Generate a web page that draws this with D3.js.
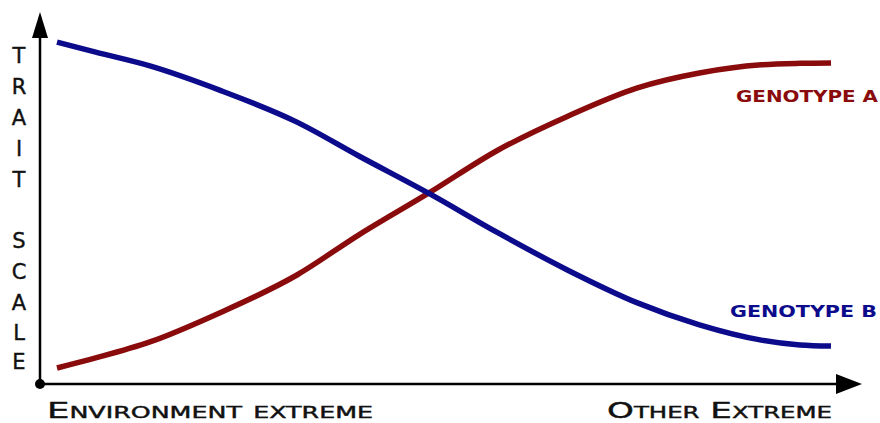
<!DOCTYPE html>
<html><head><meta charset="utf-8">
<script src="https://cdn.jsdelivr.net/npm/d3@7"></script>
<style>body{margin:0;background:#fff}svg{display:block}</style>
</head><body>
<script>
// Data
const environment = [0, 5, 12, 21, 31, 39, 48, 57, 66, 75, 83, 91, 96, 100];
const genotypeA = [4.3, 7.0, 11.3, 19.1, 29.3, 40.1, 51.3, 62.9, 72.0, 79.6, 83.6, 85.8, 86.2, 86.3];
const genotypeB = [91.9, 89.2, 85.5, 79.0, 70.4, 61.3, 51.3, 40.6, 30.6, 21.8, 15.9, 11.8, 10.5, 10.2];
const seriesNames = ["GENOTYPE A", "GENOTYPE B"];
const yTitle = "TRAIT SCALE";
const xLabels = ["Environment extreme", "Other Extreme"];

const W = 880, H = 423;
const svg = d3.select("body").append("svg").attr("width", W).attr("height", H);

const x = d3.scaleLinear().domain([0, 100]).range([57, 831]);
const y = d3.scaleLinear().domain([0, 100]).range([384, 12]);

const ox = 40, oy = 384;
// axes
svg.append("line").attr("x1", ox).attr("y1", oy).attr("x2", ox).attr("y2", 34)
  .attr("stroke", "#000").attr("stroke-width", 2.5);
svg.append("path").attr("d", `M${ox},12 L${ox-8},38 L${ox+8},38 Z`).attr("fill", "#000");
svg.append("line").attr("x1", ox).attr("y1", oy).attr("x2", 838).attr("y2", oy)
  .attr("stroke", "#000").attr("stroke-width", 2.5);
svg.append("path").attr("d", `M862,${oy} L836,${oy-10} L836,${oy+10} Z`).attr("fill", "#000");
svg.append("circle").attr("cx", ox).attr("cy", oy).attr("r", 5).attr("fill", "#000");

const line = d3.line().x((d, i) => x(environment[i])).y(d => y(d)).curve(d3.curveMonotoneX);
svg.append("path").datum(genotypeA).attr("d", line).attr("fill", "none")
  .attr("stroke", "#8a0b0b").attr("stroke-width", 5.5);
svg.append("path").datum(genotypeB).attr("d", line).attr("fill", "none")
  .attr("stroke", "#0b0b8c").attr("stroke-width", 5.5);

const font = "'DejaVu Sans', sans-serif";
// y title vertical letters
const letterY = [55, 86, 117, 148, 179, null, 240, 271, 302, 332, 361];
yTitle.split("").forEach((ch, i) => {
  if (ch === " ") return;
  svg.append("text").attr("x", 19).attr("y", letterY[i] + 8).attr("text-anchor", "middle")
    .attr("font-family", font).attr("font-size", 21).attr("fill", "#111")
    .attr("stroke", "#111").attr("stroke-width", 0.4).text(ch);
});

svg.append("text").attr("x", 47).attr("y", 418).attr("font-family", font)
  .attr("font-size", 21).style("font-variant", "small-caps").attr("fill", "#111")
  .attr("stroke", "#111").attr("stroke-width", 0.4)
  .attr("textLength", 326).attr("lengthAdjust", "spacingAndGlyphs").text(xLabels[0]);
svg.append("text").attr("x", 607).attr("y", 418).attr("font-family", font)
  .attr("font-size", 21).style("font-variant", "small-caps").attr("fill", "#111")
  .attr("stroke", "#111").attr("stroke-width", 0.4)
  .attr("textLength", 225).attr("lengthAdjust", "spacingAndGlyphs").text(xLabels[1]);

svg.append("text").attr("x", 736).attr("y", 102).attr("font-family", font).attr("font-weight", "bold")
  .attr("font-size", 15).attr("fill", "#8a0b0b").attr("textLength", 142)
  .attr("lengthAdjust", "spacingAndGlyphs").text(seriesNames[0]);
svg.append("text").attr("x", 730).attr("y", 317).attr("font-family", font).attr("font-weight", "bold")
  .attr("font-size", 15).attr("fill", "#0b0b8c").attr("textLength", 147)
  .attr("lengthAdjust", "spacingAndGlyphs").text(seriesNames[1]);
</script>
</body></html>
